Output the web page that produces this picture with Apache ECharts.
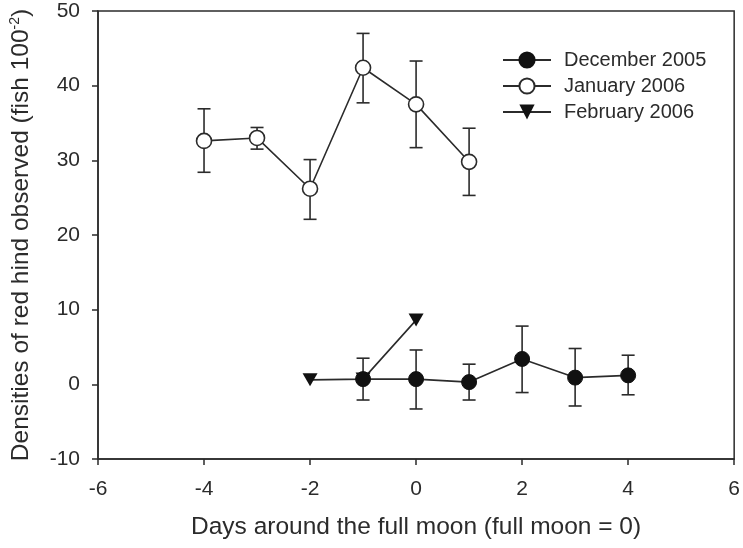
<!DOCTYPE html>
<html lang="en">
<head>
    <meta charset="UTF-8">
    <title>Red hind densities</title>
    <style>
        html, body { margin: 0; padding: 0; background: #fff; }
        #chart { width: 743px; height: 548px; }
    </style>
</head>
<body>
<div id="chart"></div>
<script src="https://cdn.jsdelivr.net/npm/echarts@6/dist/echarts.min.js"></script>
<script>
    // data
    var seriesNames = ['December 2005', 'January 2006', 'February 2006'];

    var decDays = [-1, 0, 1, 2, 3, 4];
    var decMean = [0.7, 0.7, 0.3, 3.4, 0.9, 1.2];
    var decLow = [-2.1, -3.3, -2.1, -1.1, -2.9, -1.4];
    var decHigh = [3.5, 4.6, 2.7, 7.8, 4.8, 3.9];

    var janDays = [-4, -3, -2, -1, 0, 1];
    var janMean = [32.6, 33.0, 26.2, 42.4, 37.5, 29.8];
    var janLow = [28.4, 31.5, 22.1, 37.7, 31.7, 25.3];
    var janHigh = [36.9, 34.4, 30.1, 47.0, 43.3, 34.3];

    var febDays = [-2, -1, 0];
    var febMean = [0.6, 0.7, 8.6];

    var xTicks = [-6, -4, -2, 0, 2, 4, 6];
    var yTicks = [-10, 0, 10, 20, 30, 40, 50];

    var ink = '#2b2b2b';
    var font = 'Liberation Sans, Arial, Helvetica, sans-serif';

    function pairs(xs, ys) {
        return xs.map(function(x, i) { return [x, ys[i]]; });
    }
    function bars(xs, lo, hi) {
        return xs.map(function(x, i) { return [x, lo[i], hi[i]]; });
    }

    // vertical error bar with caps
    function renderErr(params, api) {
        var x = api.value(0);
        var top = api.coord([x, api.value(2)]);
        var bot = api.coord([x, api.value(1)]);
        var w = 6.5;
        var st = { stroke: ink, lineWidth: 1.6 };
        return {
            type: 'group',
            children: [
                { type: 'line', shape: { x1: top[0], y1: top[1], x2: bot[0], y2: bot[1] }, style: st },
                { type: 'line', shape: { x1: top[0] - w, y1: top[1], x2: top[0] + w, y2: top[1] }, style: st },
                { type: 'line', shape: { x1: bot[0] - w, y1: bot[1], x2: bot[0] + w, y2: bot[1] }, style: st }
            ]
        };
    }

    var chart = echarts.init(document.getElementById('chart'));

    var option = {
        animation: false,
        textStyle: { fontFamily: font, color: ink },
        grid: {
            left: 97, right: 6, top: 11, bottom: 89,
            show: true, borderColor: ink, borderWidth: 1.5, backgroundColor: 'transparent'
        },
        legend: {
            orient: 'vertical',
            left: 497,
            top: 45,
            itemWidth: 48,
            itemHeight: 19,
            itemGap: 6,
            data: seriesNames,
            textStyle: { fontSize: 20, color: ink, fontFamily: font, lineHeight: 20, padding: [0, 0, 0, 8] }
        },
        xAxis: {
            type: 'value',
            min: -6, max: 6, interval: 2,
            name: 'Days around the full moon (full moon = 0)',
            nameLocation: 'middle',
            nameGap: 56,
            nameTextStyle: { fontSize: 24.5, color: ink, fontFamily: font },
            axisLine: { show: true, onZero: false, lineStyle: { color: ink, width: 1.5 } },
            axisTick: { show: true, inside: false, length: 6, lineStyle: { color: ink, width: 1.5 } },
            axisLabel: {
                fontSize: 21, color: ink, margin: 20,
                customValues: xTicks
            },
            splitLine: { show: false }
        },
        yAxis: {
            type: 'value',
            min: -10, max: 50, interval: 10,
            name: 'Densities of red hind observed (fish 100{sup|-2})',
            nameLocation: 'middle',
            nameGap: 64,
            nameTextStyle: {
                fontSize: 24.5, color: ink, fontFamily: font,
                rich: { sup: { fontSize: 14, verticalAlign: 'top', padding: [0, 0, 12, 0], color: ink, fontFamily: font } }
            },
            axisLine: { show: true, onZero: false, lineStyle: { color: ink, width: 1.5 } },
            axisTick: { show: true, inside: false, length: 6, lineStyle: { color: ink, width: 1.5 } },
            axisLabel: { fontSize: 21, color: ink, margin: 18, customValues: yTicks },
            splitLine: { show: false }
        },
        series: [
            {
                type: 'custom',
                name: 'errJan',
                renderItem: renderErr,
                data: bars(janDays, janLow, janHigh),
                encode: { x: 0, y: [1, 2] },
                z: 1,
                silent: true
            },
            {
                type: 'custom',
                name: 'errDec',
                renderItem: renderErr,
                data: bars(decDays, decLow, decHigh),
                encode: { x: 0, y: [1, 2] },
                z: 1,
                silent: true
            },
            {
                name: seriesNames[2],
                type: 'line',
                data: pairs(febDays, febMean),
                symbol: 'triangle',
                symbolRotate: 180,
                symbolSize: [15, 13],
                showAllSymbol: true,
                lineStyle: { color: ink, width: 1.6 },
                itemStyle: { color: '#111', borderColor: '#111', borderWidth: 0 },
                z: 2
            },
            {
                name: seriesNames[0],
                type: 'line',
                data: pairs(decDays, decMean),
                symbol: 'circle',
                symbolSize: 15,
                showAllSymbol: true,
                lineStyle: { color: ink, width: 1.6 },
                itemStyle: { color: '#111', borderColor: '#111', borderWidth: 1 },
                z: 3
            },
            {
                name: seriesNames[1],
                type: 'line',
                data: pairs(janDays, janMean),
                symbol: 'circle',
                symbolSize: 15,
                showAllSymbol: true,
                lineStyle: { color: ink, width: 1.6 },
                itemStyle: { color: '#fff', borderColor: ink, borderWidth: 1.6 },
                z: 3
            }
        ]
    };
    chart.setOption(option);
</script>
</body>
</html>
